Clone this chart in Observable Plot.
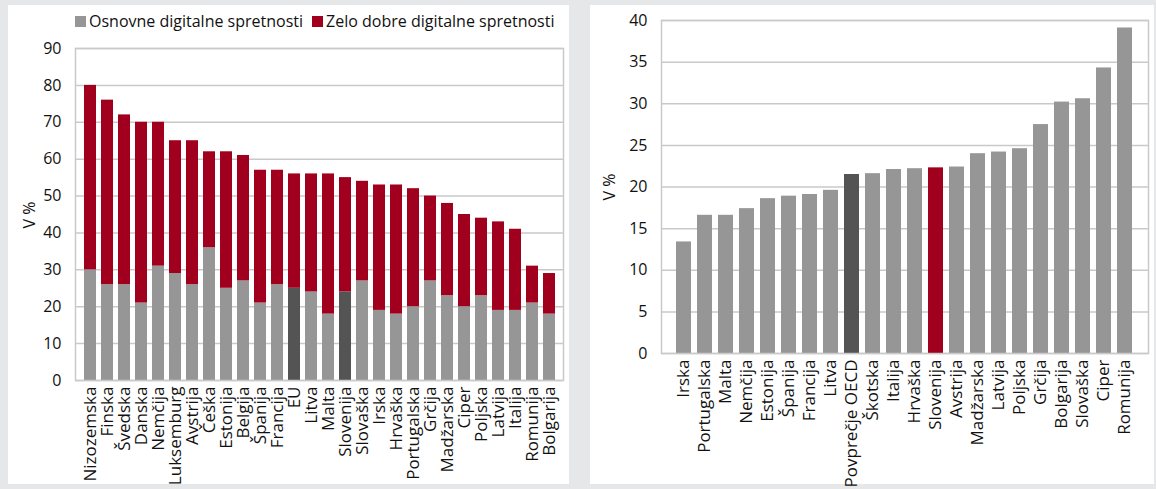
<!DOCTYPE html>
<html>
<head>
<meta charset="utf-8">
<script src="https://cdn.jsdelivr.net/npm/d3@7"></script>
<script src="https://cdn.jsdelivr.net/npm/@observablehq/plot@0.6"></script>
<style>
  html, body { margin: 0; padding: 0; }
  body { width: 1156px; height: 489px; background: #e6e7e8; position: relative; overflow: hidden; font-family: "Open Sans", sans-serif; }
  .panel { position: absolute; background: #fff; }
  .chart { position: absolute; }
  .ylab { position: absolute; font-size: 16px; color: #111; transform: rotate(-90deg); transform-origin: center; white-space: nowrap; }
  .legend { position: absolute; font-size: 16px; color: #111; display: flex; align-items: center; white-space: nowrap; }
  .sw { display: inline-block; width: 11px; height: 11px; margin-right: 3px; }
</style>
</head>
<body>
<div class="panel" style="left:8px;top:5px;width:561px;height:479px"></div>
<div class="panel" style="left:590px;top:5px;width:564px;height:479px"></div>
<div class="legend" style="left:75px;top:10px">
  <span class="sw" style="background:#969696"></span><span>Osnovne digitalne spretnosti</span>
  <span class="sw" style="background:#a0001e;margin-left:9px"></span><span>Zelo dobre digitalne spretnosti</span>
</div>
<div class="ylab" style="left:16px;top:204px">V %</div>
<div class="ylab" style="left:596px;top:176px">V %</div>
<div id="left" class="chart" style="left:8px;top:5px"></div>
<div id="right" class="chart" style="left:590px;top:5px"></div>
<script>
// Left chart data
const countriesL = ["Nizozemska","Finska","Švedska","Danska","Nemčija","Luksemburg","Avstrija","Češka","Estonija","Belgija","Španija","Francija","EU","Litva","Malta","Slovenija","Slovaška","Irska","Hrvaška","Portugalska","Grčija","Madžarska","Ciper","Poljska","Latvija","Italija","Romunija","Bolgarija"];
const osnovne = [30,26,26,21,31,29,26,36,25,27,21,26,25,24,18,24,27,19,18,20,27,23,20,23,19,19,21,18];
const zeloDobre = [50,50,46,49,39,36,39,26,37,34,36,31,31,32,38,31,27,34,35,32,23,25,25,21,24,22,10,11];
const highlightL = ["EU","Slovenija"];
const ticksL = [0,10,20,30,40,50,60,70,80,90];

// Right chart data
const countriesR = ["Irska","Portugalska","Malta","Nemčija","Estonija","Španija","Francija","Litva","Povprečje OECD","Škotska","Italija","Hrvaška","Slovenija","Avstrija","Madžarska","Latvija","Poljska","Grčija","Bolgarija","Slovaška","Ciper","Romunija"];
const valuesR = [13.4,16.6,16.6,17.4,18.6,18.9,19.1,19.6,21.5,21.6,22.1,22.2,22.3,22.4,24.0,24.2,24.6,27.5,30.2,30.6,34.3,39.1];
const ticksR = [0,5,10,15,20,25,30,35,40];

const GREY = "#969696", DARK = "#545454", RED = "#a0001e", GRID = "#c9c9c9";

const longL = [];
countriesL.forEach((c, i) => {
  longL.push({country: c, series: "Osnovne", value: osnovne[i], color: highlightL.includes(c) ? DARK : GREY});
  longL.push({country: c, series: "Zelo dobre", value: zeloDobre[i], color: RED});
});

const style = {fontFamily: "Open Sans, sans-serif", fontSize: "16px", color: "#111", background: "transparent", overflow: "visible"};

const left = Plot.plot({
  width: 561, height: 479,
  marginTop: 43, marginBottom: 104, marginLeft: 67, marginRight: 6,
  style,
  x: {domain: countriesL, padding: 0.3, label: null},
  y: {domain: [0, 90], label: null},
  color: {type: "identity"},
  marks: [
    Plot.gridY(ticksL, {stroke: GRID, strokeOpacity: 1, strokeWidth: 1.5}),
    Plot.barY(longL, {x: "country", y: "value", fill: "color"}),
    Plot.frame({stroke: GRID, strokeWidth: 1.5}),
    Plot.axisY({ticks: ticksL, tickSize: 0, tickPadding: 14, label: null}),
    Plot.axisX({tickSize: 0, tickPadding: 6, tickRotate: -90, label: null, fontSize: 17})
  ]
});
document.getElementById("left").appendChild(left);

const dataR = countriesR.map((c, i) => ({country: c, value: valuesR[i], color: c === "Slovenija" ? RED : c === "Povprečje OECD" ? DARK : GREY}));

const right = Plot.plot({
  width: 564, height: 479,
  marginTop: 15, marginBottom: 131, marginLeft: 71, marginRight: 6,
  style,
  x: {domain: countriesR, padding: 0.28, label: null},
  y: {domain: [0, 40], label: null},
  color: {type: "identity"},
  marks: [
    Plot.gridY(ticksR, {stroke: GRID, strokeOpacity: 1, strokeWidth: 1.5}),
    Plot.barY(dataR, {x: "country", y: "value", fill: "color"}),
    Plot.frame({stroke: GRID, strokeWidth: 1.5}),
    Plot.axisY({ticks: ticksR, tickSize: 0, tickPadding: 14, label: null}),
    Plot.axisX({tickSize: 0, tickPadding: 6, tickRotate: -90, label: null, fontSize: 17})
  ]
});
document.getElementById("right").appendChild(right);
</script>
</body>
</html>
